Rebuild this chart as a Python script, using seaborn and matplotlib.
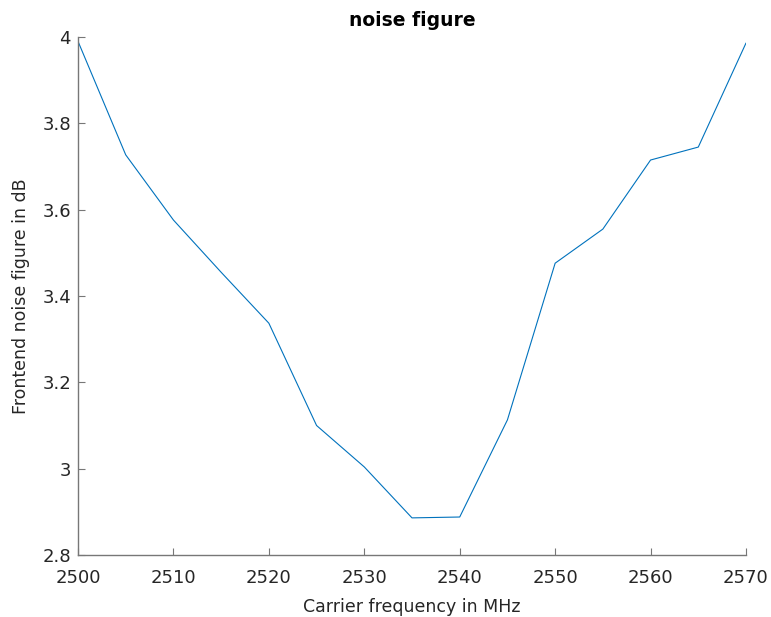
import matplotlib
matplotlib.use("Agg")
import matplotlib.pyplot as plt
import seaborn as sns
import pandas as pd
from matplotlib.ticker import FormatStrFormatter

freq_mhz = [2500, 2505, 2510, 2515, 2520, 2525, 2530, 2535, 2540, 2545, 2550, 2555, 2560, 2565, 2570]
noise_db = [3.99, 3.727, 3.576, 3.455, 3.337, 3.100, 3.004, 2.886, 2.888, 3.113, 3.476, 3.555, 3.715, 3.745, 3.986]
x_ticks = [2500, 2510, 2520, 2530, 2540, 2550, 2560, 2570]
y_ticks = [2.8, 3.0, 3.2, 3.4, 3.6, 3.8, 4.0]

sns.set_theme(style="white")
plt.rcParams['font.family'] = ['DejaVu Sans']

df = pd.DataFrame({"freq": freq_mhz, "nf": noise_db})

fig = plt.figure(figsize=(7.71, 6.17), dpi=100)
ax = fig.add_axes([78/771, 62/617, 668/771, 518/617])
sns.lineplot(data=df, x="freq", y="nf", ax=ax, color="#0072BD", linewidth=0.8)

ax.set_xlim(2500, 2570)
ax.set_ylim(2.8, 4.0)
ax.set_xticks(x_ticks)
ax.set_yticks(y_ticks)
ax.yaxis.set_major_formatter(FormatStrFormatter('%g'))

for side in ["top", "right"]:
    ax.spines[side].set_visible(False)
for side in ["left", "bottom"]:
    ax.spines[side].set_color("#777777")
    ax.spines[side].set_linewidth(1.0)

ax.tick_params(axis="both", direction="in", length=5, width=0.8, color="#777777",
               labelsize=13, labelcolor="#262626", left=True, bottom=True)
ax.tick_params(axis="x", pad=10)
ax.tick_params(axis="y", pad=5)

ax.set_xlabel("Carrier frequency in MHz", fontsize=12.5, color="#262626", labelpad=8)
ax.set_ylabel("Frontend noise figure in dB", fontsize=12.5, color="#262626", labelpad=9)
ax.set_title("noise figure", fontsize=13.5, fontweight="bold", color="black", pad=8)

fig.savefig("out.png", dpi=100)
